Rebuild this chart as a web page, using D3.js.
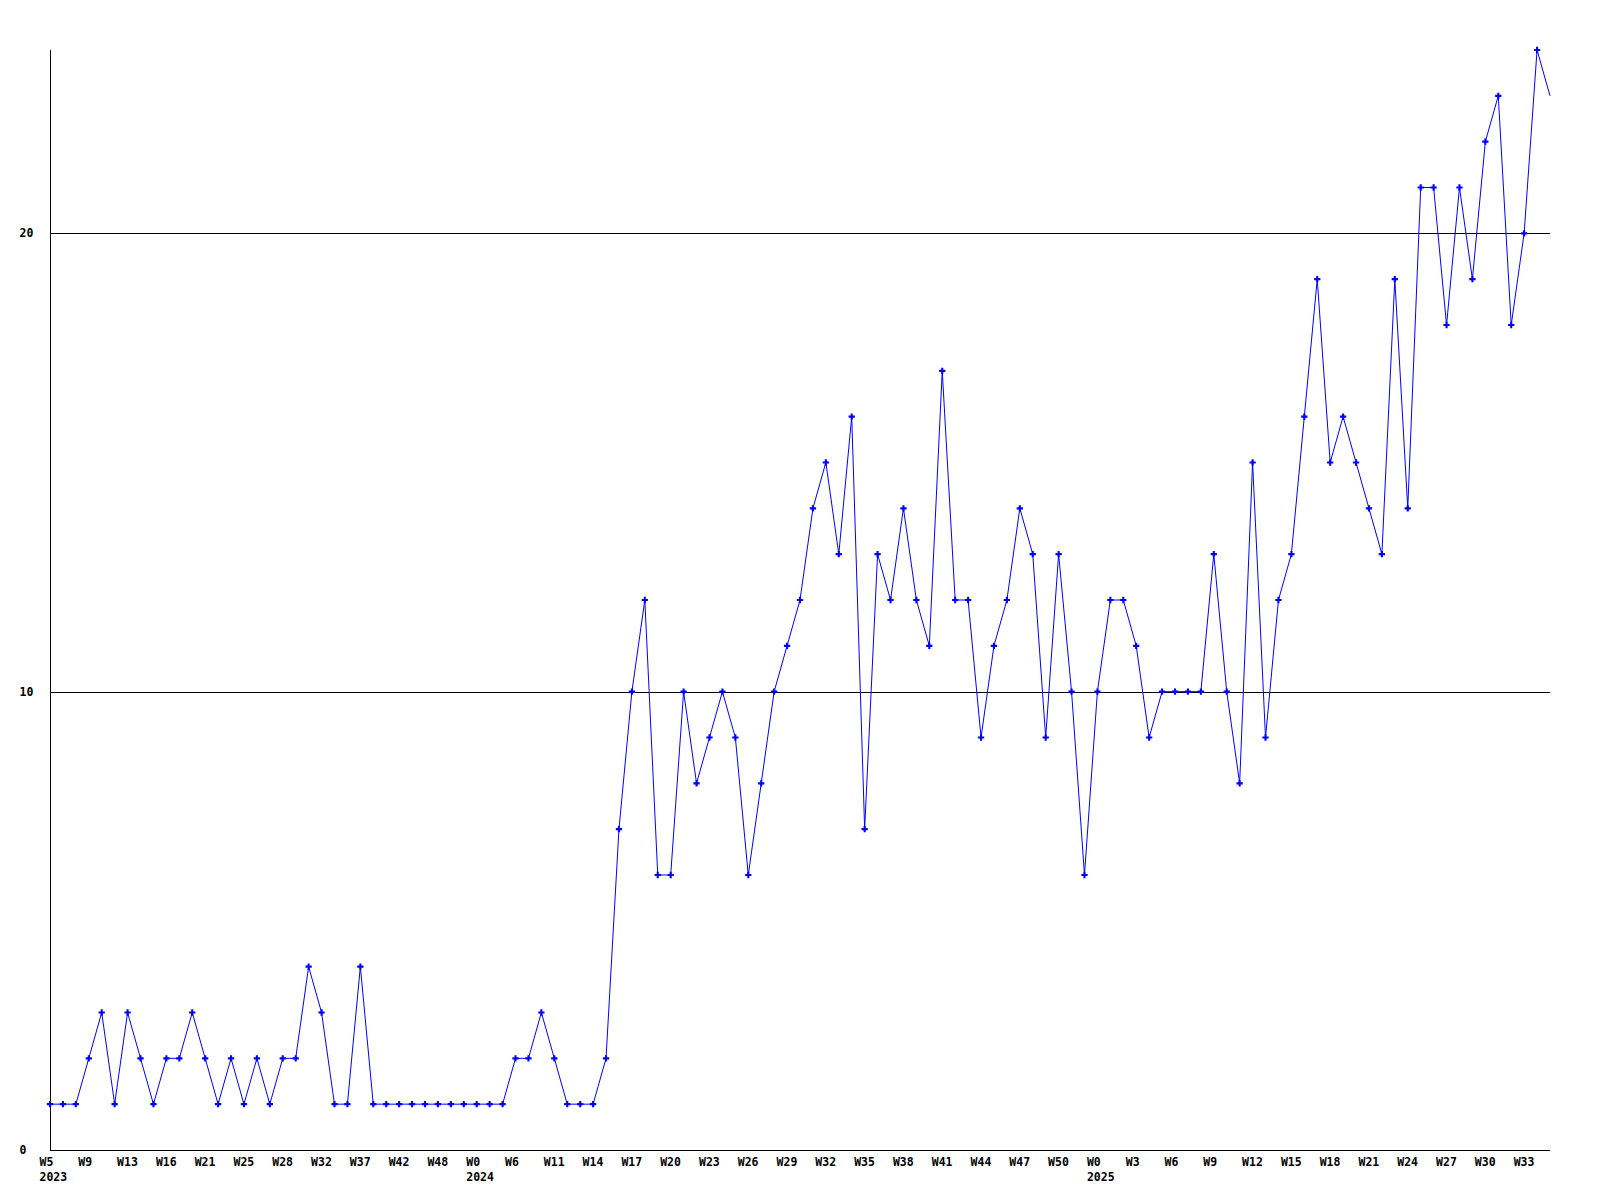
<!DOCTYPE html>
<html>
<head>
<meta charset="utf-8">
<script src="https://cdn.jsdelivr.net/npm/d3@7"></script>
<style>
  html, body { margin: 0; padding: 0; background: #ffffff; }
  svg { display: block; }
  text { font-family: "DejaVu Sans Mono", "Liberation Mono", monospace; font-weight: bold; font-size: 11.5px; fill: #000; }
</style>
</head>
<body>
<svg id="chart" width="1600" height="1200"></svg>
<script>
// ---- data ----
const values = [
  1, 1, 1, 2, 3, 1, 3, 2, 1, 2, 2, 3, 2, 1, 2, 1, 2, 1, 2, 2,
  4, 3, 1, 1, 4, 1, 1, 1, 1, 1, 1, 1, 1, 1, 1, 1, 2, 2, 3, 2,
  1, 1, 1, 2, 7, 10, 12, 6, 6, 10, 8, 9, 10, 9, 6, 8, 10, 11, 12, 14,
  15, 13, 16, 7, 13, 12, 14, 12, 11, 17, 12, 12, 9, 11, 12, 14, 13, 9, 13, 10,
  6, 10, 12, 12, 11, 9, 10, 10, 10, 10, 13, 10, 8, 15, 9, 12, 13, 16, 19, 15,
  16, 15, 14, 13, 19, 14, 21, 21, 18, 21, 19, 22, 23, 18, 20, 24, 23
];
const weekTickLabels = [
  "W5", "W9", "W13", "W16", "W21", "W25", "W28", "W32", "W37", "W42", "W48",
  "W0", "W6", "W11", "W14", "W17", "W20", "W23", "W26", "W29", "W32", "W35", "W38", "W41", "W44", "W47", "W50",
  "W0", "W3", "W6", "W9", "W12", "W15", "W18", "W21", "W24", "W27", "W30", "W33"
];
const yearLabels = ["2023", "2024", "2025"];
const yearTickIndex = [0, 11, 27];      // which week tick carries the year
const tickStep = 3;                      // one week label every 3 points
const yTicks = [0, 10, 20];
const yMax = 24;

// ---- layout ----
const mLeft = 50, mRight = 1550, mTop = 50, mBottom = 1150;
const svg = d3.select("#chart");

const x = d3.scaleLinear().domain([0, values.length - 1]).range([mLeft, mRight]);
const y = d3.scaleLinear().domain([0, yMax]).range([mBottom, mTop]);

// horizontal grid lines (excluding 0)
svg.append("g").selectAll("line").data(yTicks.filter(d => d > 0)).join("line")
  .attr("x1", mLeft).attr("x2", mRight)
  .attr("y1", d => Math.round(y(d)) + 0.5).attr("y2", d => Math.round(y(d)) + 0.5)
  .attr("stroke", "#000").attr("stroke-width", 1);

// axes lines
svg.append("line").attr("x1", mLeft + 0.5).attr("x2", mLeft + 0.5).attr("y1", mTop).attr("y2", mBottom)
  .attr("stroke", "#000").attr("stroke-width", 1);
svg.append("line").attr("x1", mLeft).attr("x2", mRight).attr("y1", mBottom + 0.5).attr("y2", mBottom + 0.5)
  .attr("stroke", "#000").attr("stroke-width", 1);

// y labels
svg.append("g").selectAll("text").data(yTicks).join("text")
  .attr("x", 19.5).attr("y", d => y(d)).attr("dy", "0.35em")
  .text(d => d);

// x labels
const tickIdx = weekTickLabels.map((_, k) => k * tickStep);
svg.append("g").selectAll("text").data(weekTickLabels).join("text")
  .attr("x", (d, k) => x(tickIdx[k]) - 10.5)
  .attr("y", 1166)
  .text(d => d);
svg.append("g").selectAll("text").data(yearLabels).join("text")
  .attr("x", (d, k) => x(tickIdx[yearTickIndex[k]]) - 10.5)
  .attr("y", 1181)
  .text(d => d);

// line
const line = d3.line().x((d, i) => x(i)).y(d => y(d));
svg.append("path").datum(values)
  .attr("d", line).attr("fill", "none").attr("stroke", "#0000ff").attr("stroke-width", 1);

// markers (last point drawn without marker, at the edge)
const sym = d3.symbol().type(d3.symbolCross).size(22);
svg.append("g").selectAll("path").data(values.slice(0, values.length - 1)).join("path")
  .attr("transform", (d, i) => `translate(${x(i)},${y(d)})`)
  .attr("d", sym).attr("fill", "#0000ff");
</script>
</body>
</html>
